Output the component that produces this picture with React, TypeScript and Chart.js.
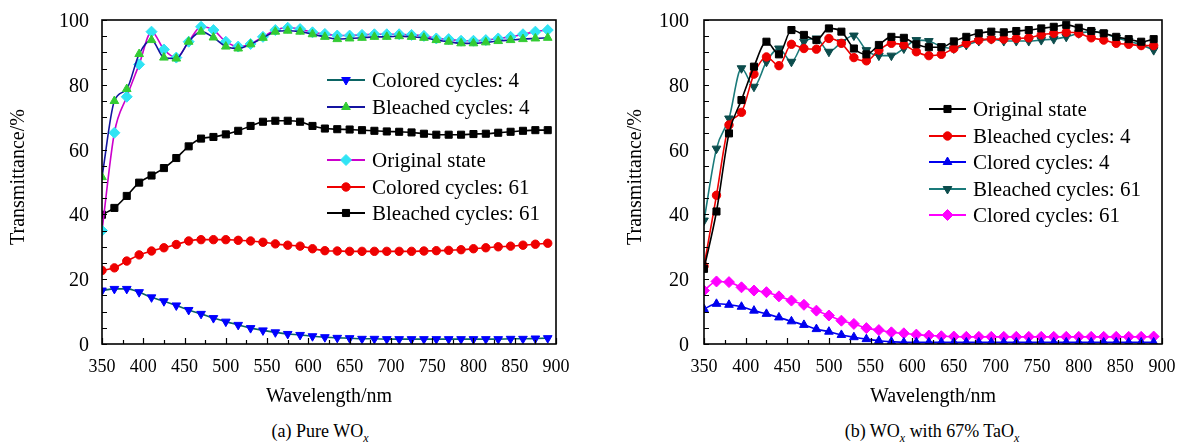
import React, { useEffect, useRef, useState } from 'react';
import { Chart, registerables } from 'chart.js';

Chart.register(...registerables);

const SERIF = "'Liberation Serif'";

// Wavelengths (nm) of the plotted markers
const wavelengths = [350, 365, 380, 395, 410, 425, 440, 455, 470, 485, 500, 515, 530, 545, 560, 575, 590, 605, 620, 635, 650, 665, 680, 695, 710, 725, 740, 755, 770, 785, 800, 815, 830, 845, 860, 875, 890];

const xTickValues = [350, 400, 450, 500, 550, 600, 650, 700, 750, 800, 850, 900];
const yTickValues = [0, 20, 40, 60, 80, 100];

const xTitle = 'Wavelength/nm';
const yTitle = 'Transmittance/%';

// (a) Pure WOx
const aColored4 = [16.5, 17, 17, 16, 14.4, 13.2, 11.9, 10.5, 9.3, 8, 6.9, 5.9, 4.9, 4.2, 3.6, 3.1, 2.8, 2.4, 2.1, 1.9, 1.8, 1.6, 1.6, 1.5, 1.5, 1.5, 1.5, 1.5, 1.5, 1.5, 1.5, 1.5, 1.5, 1.6, 1.6, 1.7, 1.8];
const aBleached4 = [51.5, 75, 78.7, 89.5, 93.8, 88.4, 88.1, 93.3, 96.4, 94.6, 91.8, 91.2, 92.5, 94.5, 96.4, 96.7, 96.4, 95.6, 94.8, 94.1, 94.3, 94.5, 94.8, 94.8, 95, 94.8, 94.5, 93.8, 93.3, 92.8, 92.8, 93.1, 93.5, 93.8, 94.1, 94.3, 94.5];
const aOriginal = [35, 65.2, 76.3, 86.3, 96.4, 90.9, 88.4, 93.3, 97.9, 96.9, 93.3, 91.8, 92.6, 94.8, 96.9, 97.6, 97.2, 96.2, 95.7, 95.2, 95.2, 95.4, 95.6, 95.6, 95.6, 95.4, 95.1, 94.3, 94.1, 93.6, 93.6, 93.8, 94.3, 94.8, 95.6, 96.4, 96.9];
const aColored61 = [22.7, 23.5, 25.6, 27.5, 28.7, 29.7, 30.7, 31.8, 32.2, 32.2, 32.2, 32, 31.8, 31.4, 30.9, 30.5, 30.2, 29.4, 28.8, 28.7, 28.6, 28.6, 28.6, 28.6, 28.6, 28.6, 28.7, 28.8, 28.9, 29.1, 29.4, 29.7, 30, 30.2, 30.5, 30.8, 31.1];
const aBleached61 = [39.9, 42, 45.7, 49.8, 52, 54.3, 57.4, 61, 63.4, 63.9, 64.7, 65.8, 67.3, 68.6, 68.9, 68.9, 68.6, 67.3, 66.5, 66.3, 66.2, 66, 65.8, 65.6, 65.5, 65.3, 64.9, 64.6, 64.6, 64.6, 64.8, 64.9, 65.2, 65.5, 65.8, 66, 66];

// (b) WOx with 67% TaOx
const bOriginal = [23.2, 40.9, 65, 75.3, 85.6, 93.3, 89.4, 96.9, 95.4, 93.8, 97.4, 96.4, 91.2, 89.4, 92.3, 94.8, 94.5, 92.5, 91.6, 91.6, 93.4, 94.8, 95.9, 96.4, 96.2, 96.6, 96.9, 97.4, 97.9, 98.5, 97.6, 96.6, 95.9, 94.8, 94.1, 93.3, 94.1];
const bBleached4 = [24, 45.9, 67.6, 71.5, 83.3, 88.6, 85.9, 92.5, 91.2, 91, 94.3, 92.8, 88.4, 87.4, 90.7, 92.8, 92.3, 90.2, 89, 89.4, 91.2, 92.8, 93.8, 94.1, 94.1, 94.3, 94.5, 95.4, 95.9, 96.2, 95.9, 94.5, 93.8, 92.8, 92.5, 92.1, 92.1];
const bColored4 = [10.8, 12.4, 12.1, 11.5, 10.3, 9.3, 8.2, 7, 5.9, 4.6, 3.8, 2.8, 2.1, 1.5, 1, 0.7, 0.5, 0.5, 0.5, 0.5, 0.5, 0.5, 0.5, 0.5, 0.5, 0.5, 0.5, 0.5, 0.5, 0.5, 0.5, 0.5, 0.5, 0.5, 0.5, 0.5, 0.5];
const bBleached61 = [38.1, 60.3, 69.6, 85.1, 79.4, 87.1, 91.2, 87.1, 93.3, 94.3, 90.2, 93.1, 95.2, 90.7, 89, 89, 91.2, 93.8, 93.5, 91.8, 91.2, 92.3, 93.5, 94.1, 93.5, 93.5, 93.5, 93.8, 94.1, 94.8, 95.9, 96.4, 95.9, 94.5, 93.5, 92.3, 90.7];
const bColored61 = [16.5, 19.3, 19.1, 17.5, 16.5, 16, 14.7, 13.4, 12.1, 10.3, 8.8, 7.2, 6.2, 4.9, 4.3, 3.6, 3.3, 2.9, 2.6, 2.4, 2.3, 2.2, 2.2, 2.2, 2.2, 2.2, 2.2, 2.2, 2.2, 2.2, 2.2, 2.2, 2.2, 2.2, 2.2, 2.2, 2.3];

type SeriesDef = {
  label: string;
  values: number[];
  line: string;
  marker: string;
  style: string;
  rotation?: number;
  radius: number;
};

const seriesA: SeriesDef[] = [
  { label: 'Colored cycles: 4', values: aColored4, line: '#0b6464', marker: '#0000ff', style: 'triangle', rotation: 180, radius: 5 },
  { label: 'Bleached cycles: 4', values: aBleached4, line: '#1414a0', marker: '#33cc33', style: 'triangle', radius: 5 },
  { label: 'Original state', values: aOriginal, line: '#cc00cc', marker: '#30e4f4', style: 'rectRot', radius: 5.5 },
  { label: 'Colored cycles: 61', values: aColored61, line: '#ee0000', marker: '#ee0000', style: 'circle', radius: 4.2 },
  { label: 'Bleached cycles: 61', values: aBleached61, line: '#000000', marker: '#000000', style: 'rect', radius: 5 },
];

const seriesB: SeriesDef[] = [
  { label: 'Original state', values: bOriginal, line: '#000000', marker: '#000000', style: 'rect', radius: 5 },
  { label: 'Bleached cycles: 4', values: bBleached4, line: '#ee0000', marker: '#ee0000', style: 'circle', radius: 4.2 },
  { label: 'Clored cycles: 4', values: bColored4, line: '#0000ee', marker: '#0000ee', style: 'triangle', radius: 5 },
  { label: 'Bleached cycles: 61', values: bBleached61, line: '#1a7a7a', marker: '#0c4c4c', style: 'triangle', rotation: 180, radius: 5 },
  { label: 'Clored cycles: 61', values: bColored61, line: '#ff00ff', marker: '#ff00ff', style: 'rectRot', radius: 5.5 },
];

function drawMarker(ctx: CanvasRenderingContext2D, style: string, rotationDeg: number, r: number, x: number, y: number) {
  ctx.beginPath();
  if (style === 'circle') {
    ctx.arc(x, y, r, 0, Math.PI * 2);
  } else if (style === 'rect') {
    const s = r * Math.SQRT1_2;
    ctx.rect(x - s, y - s, 2 * s, 2 * s);
  } else if (style === 'rectRot') {
    ctx.moveTo(x, y - r);
    ctx.lineTo(x + r, y);
    ctx.lineTo(x, y + r);
    ctx.lineTo(x - r, y);
    ctx.closePath();
  } else {
    let a = (rotationDeg * Math.PI) / 180;
    ctx.moveTo(x + Math.sin(a) * r, y - Math.cos(a) * r);
    a += (2 * Math.PI) / 3;
    ctx.lineTo(x + Math.sin(a) * r, y - Math.cos(a) * r);
    a += (2 * Math.PI) / 3;
    ctx.lineTo(x + Math.sin(a) * r, y - Math.cos(a) * r);
    ctx.closePath();
  }
  ctx.fill();
  ctx.stroke();
}

const framePlugin = {
  id: 'frameTicks',
  afterDatasetsDraw(chart: any) {
    const { ctx, chartArea: a, scales } = chart;
    ctx.save();
    ctx.strokeStyle = '#000';
    ctx.lineWidth = 1.2;
    ctx.beginPath();
    for (let v = 0; v <= 100; v += 5) {
      const y = Math.round(scales.y.getPixelForValue(v)) + 0.5;
      ctx.moveTo(a.left, y);
      ctx.lineTo(a.left + 5, y);
    }
    for (let v = 350; v <= 900; v += 25) {
      const x = Math.round(scales.x.getPixelForValue(v)) + 0.5;
      ctx.moveTo(x, a.bottom);
      ctx.lineTo(x, a.bottom - (v % 50 === 0 ? 6 : 4));
    }
    ctx.stroke();
    ctx.lineWidth = 1.6;
    ctx.strokeRect(a.left, a.top, a.right - a.left, a.bottom - a.top);
    ctx.restore();
  },
};

// Legend samples (line + marker); the legend labels themselves are HTML text.
const legendSamplePlugin = {
  id: 'legendSamples',
  afterDraw(chart: any, _args: any, opts: any) {
    const { ctx } = chart;
    const { rows, x1, x2 } = opts;
    ctx.save();
    rows.forEach((r: any) => {
      const ds = chart.data.datasets[r.index];
      ctx.strokeStyle = ds.borderColor;
      ctx.lineWidth = 2;
      ctx.beginPath();
      ctx.moveTo(x1, r.y);
      ctx.lineTo(x2, r.y);
      ctx.stroke();
      ctx.fillStyle = ds.pointBackgroundColor;
      ctx.strokeStyle = ds.pointBorderColor;
      ctx.lineWidth = 1;
      drawMarker(ctx, ds.pointStyle, ds.pointRotation || 0, ds.pointRadius, (x1 + x2) / 2, r.y);
    });
    ctx.restore();
  },
};

function buildChart(canvas: HTMLCanvasElement, series: SeriesDef[], layout: any) {
  return new Chart(canvas, {
    type: 'line',
    data: {
      datasets: series.map((s) => ({
        label: s.label,
        data: wavelengths.map((w, i) => ({ x: w, y: s.values[i] })),
        borderColor: s.line,
        borderWidth: 1.6,
        backgroundColor: s.marker,
        pointBackgroundColor: s.marker,
        pointBorderColor: s.marker,
        pointBorderWidth: 1,
        pointStyle: s.style as any,
        pointRotation: s.rotation || 0,
        pointRadius: s.radius,
        cubicInterpolationMode: 'monotone' as const,
        fill: false,
      })),
    },
    options: {
      animation: false,
      responsive: false,
      maintainAspectRatio: false,
      layout: { padding: { top: 20, right: layout.padRight, left: 0, bottom: 0 } },
      plugins: {
        legend: { display: false },
        tooltip: { enabled: false },
        legendSamples: layout.legend,
      } as any,
      scales: {
        x: {
          type: 'linear',
          min: 350,
          max: 900,
          afterBuildTicks: (s: any) => { s.ticks = xTickValues.map((v) => ({ value: v })); },
          afterFit: (s: any) => { s.height = 66; },
          grid: { display: false, drawTicks: false },
          border: { display: false },
          ticks: { display: false },
          title: { display: false },
        },
        y: {
          type: 'linear',
          min: 0,
          max: 100,
          afterBuildTicks: (s: any) => { s.ticks = yTickValues.map((v) => ({ value: v })); },
          afterFit: (s: any) => { s.width = layout.yWidth; },
          grid: { display: false, drawTicks: false },
          border: { display: false },
          ticks: { display: false },
          title: { display: false },
        },
      },
    },
    plugins: [framePlugin, legendSamplePlugin],
  });
}

type Geo = {
  left: number;
  right: number;
  top: number;
  bottom: number;
  xs: { v: number; p: number }[];
  ys: { v: number; p: number }[];
};

const textBase: React.CSSProperties = {
  position: 'absolute',
  fontFamily: SERIF,
  color: '#000',
  whiteSpace: 'nowrap',
};

function Panel({ series, layout, left }: { series: SeriesDef[]; layout: any; left: number }) {
  const ref = useRef<HTMLCanvasElement>(null);
  const [geo, setGeo] = useState<Geo | null>(null);
  useEffect(() => {
    const chart = buildChart(ref.current!, series, layout);
    const a = chart.chartArea;
    setGeo({
      left: a.left,
      right: a.right,
      top: a.top,
      bottom: a.bottom,
      xs: xTickValues.map((v) => ({ v, p: chart.scales.x.getPixelForValue(v) })),
      ys: yTickValues.map((v) => ({ v, p: chart.scales.y.getPixelForValue(v) })),
    });
    return () => chart.destroy();
  }, []);
  return (
    <div style={{ position: 'absolute', left, top: 0, width: 590, height: 410 }}>
      <canvas
        ref={ref}
        width={590}
        height={410}
        style={{ position: 'absolute', left: 0, top: 0, width: 590, height: 410 }}
      />
      {geo && (
        <div style={{ position: 'absolute', left: 0, top: 0, width: 590, height: 410, pointerEvents: 'none' }}>
          {geo.ys.map((t) => (
            <div
              key={'y' + t.v}
              style={{ ...textBase, left: 0, width: geo.left - layout.yPad, top: t.p - 12, height: 24, lineHeight: '24px', fontSize: 20, textAlign: 'right' }}
            >
              {String(t.v)}
            </div>
          ))}
          {geo.xs.map((t) => (
            <div
              key={'x' + t.v}
              style={{ ...textBase, left: t.p - 30, width: 60, top: geo.bottom + 11, height: 22, lineHeight: '22px', fontSize: 18, textAlign: 'center' }}
            >
              {String(t.v)}
            </div>
          ))}
          <div
            style={{ ...textBase, left: (geo.left + geo.right) / 2 - 150, width: 300, top: 383, height: 24, lineHeight: '24px', fontSize: 20, textAlign: 'center' }}
          >
            {xTitle}
          </div>
          <div
            style={{
              ...textBase,
              left: layout.yTitleX - 150,
              width: 300,
              top: 177 - 12,
              height: 24,
              lineHeight: '24px',
              fontSize: 20,
              textAlign: 'center',
              transform: 'rotate(-90deg)',
            }}
          >
            {yTitle}
          </div>
          {layout.legend.rows.map((r: any) => (
            <div
              key={'l' + r.index}
              style={{ ...textBase, left: layout.legend.tx, top: r.y - 12, height: 24, lineHeight: '24px', fontSize: 21 }}
            >
              {series[r.index].label}
            </div>
          ))}
        </div>
      )}
    </div>
  );
}

const layoutA = {
  padRight: 34,
  yWidth: 102,
  yPad: 13,
  yTitleX: 17,
  legend: {
    x1: 327,
    x2: 365,
    tx: 372,
    rows: [
      { index: 0, y: 80 },
      { index: 1, y: 107 },
      { index: 2, y: 160 },
      { index: 3, y: 187 },
      { index: 4, y: 213 },
    ],
  },
};

const layoutB = {
  padRight: 28,
  yWidth: 104,
  yPad: 15,
  yTitleX: 34,
  legend: {
    x1: 329,
    x2: 366,
    tx: 373,
    rows: [
      { index: 0, y: 109 },
      { index: 1, y: 136 },
      { index: 2, y: 162 },
      { index: 3, y: 189 },
      { index: 4, y: 215 },
    ],
  },
};

const captionStyle: React.CSSProperties = {
  position: 'absolute',
  top: 420,
  width: 400,
  textAlign: 'center',
  fontFamily: SERIF,
  fontSize: 18,
  lineHeight: '22px',
  color: '#000',
  whiteSpace: 'nowrap',
};

const subStyle: React.CSSProperties = { fontSize: 12, fontStyle: 'italic', verticalAlign: 'sub', lineHeight: 0 };

export default function App() {
  return (
    <div style={{ position: 'absolute', left: 0, top: 0, width: 1190, height: 443, overflow: 'hidden', background: '#fff' }}>
      <Panel series={seriesA} layout={layoutA} left={0} />
      <Panel series={seriesB} layout={layoutB} left={600} />
      <div style={{ ...captionStyle, left: 320 - 200 }}>
        (a) Pure WO<span style={subStyle}>x</span>
      </div>
      <div style={{ ...captionStyle, left: 932 - 200 }}>
        (b) WO<span style={subStyle}>x</span> with 67% TaO<span style={subStyle}>x</span>
      </div>
    </div>
  );
}
